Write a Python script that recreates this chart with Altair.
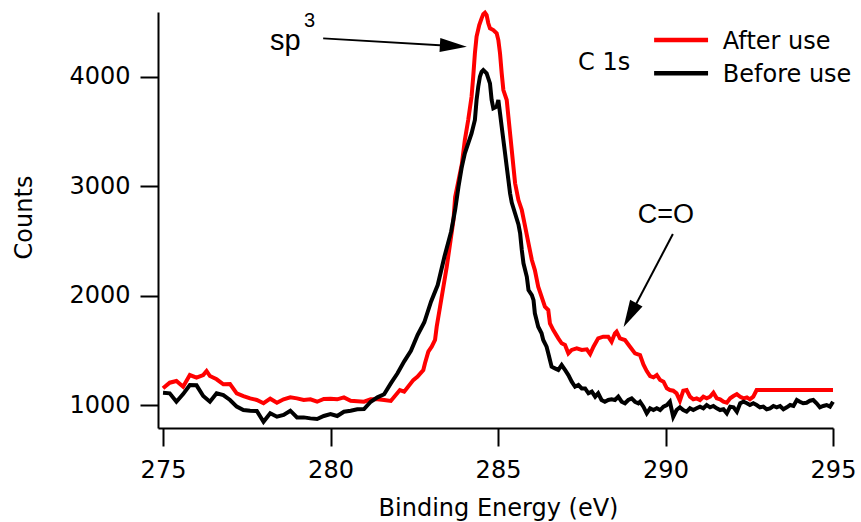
import altair as alt
import pandas as pd

# ---------------- data ----------------
after_energy = [
    275.0, 275.2, 275.4, 275.6, 275.8, 276.0, 276.2, 276.3, 276.4, 276.6, 276.8, 277.0,
    277.2, 277.4, 277.6, 277.8, 278.0, 278.2, 278.4, 278.6, 278.8, 279.0, 279.2, 279.4,
    279.6, 279.8, 280.0, 280.2, 280.4, 280.6, 280.8, 281.0, 281.2, 281.4, 281.6, 281.8,
    282.07, 282.2, 282.47, 282.6, 282.77, 282.82, 282.92, 283.02, 283.12, 283.17, 283.27,
    283.37, 283.47, 283.57, 283.67, 283.72, 283.82, 283.92, 284.01, 284.11, 284.21, 284.26,
    284.31, 284.36, 284.44, 284.51, 284.56, 284.61, 284.66, 284.71, 284.76, 284.86, 284.96,
    285.01, 285.06, 285.11, 285.16, 285.26, 285.31, 285.36, 285.41, 285.46, 285.51, 285.61,
    285.71, 285.81, 285.91, 286.01, 286.10, 286.20, 286.30, 286.40, 286.50, 286.55, 286.65,
    286.80, 286.90, 287.00, 287.10, 287.20, 287.35, 287.50, 287.65, 287.75, 287.85, 287.99,
    288.14, 288.29, 288.39, 288.49, 288.54, 288.64, 288.79, 288.94, 289.09, 289.24, 289.34,
    289.44, 289.54, 289.64, 289.74, 289.84, 289.94, 290.04, 290.13, 290.23, 290.33, 290.43,
    290.53, 290.63, 290.73, 290.83, 290.93, 291.03, 291.13, 291.23, 291.33, 291.43, 291.53,
    291.63, 291.73, 291.83, 291.93, 292.03, 292.13, 292.23, 292.33, 292.43, 292.52, 292.62,
    292.72, 295.0,
]
after_counts = [
    1153, 1204, 1219, 1167, 1274, 1250, 1274, 1311, 1265, 1235, 1189, 1192,
    1107, 1082, 1061, 1046, 1016, 1058, 1021, 1052, 1070, 1061, 1046, 1052,
    1030, 1055, 1058, 1052, 1070, 1039, 1034, 1030, 1052, 1052, 1046, 1037,
    1137, 1122, 1228, 1259, 1320, 1381, 1487, 1533, 1594, 1716, 1898,
    2081, 2264, 2477, 2690, 2900, 3050, 3200, 3421, 3604, 3817, 4000,
    4213, 4366, 4472, 4533, 4572, 4585, 4563, 4488, 4442, 4426, 4396,
    4335, 4213, 4031, 3878, 3787, 3634, 3482, 3330, 3177, 3026, 2873,
    2782, 2629, 2477, 2325, 2233, 2081, 1990, 1898, 1868, 1746, 1685,
    1609, 1564, 1548, 1472, 1503, 1518, 1503, 1509, 1466, 1533, 1609,
    1624, 1624, 1578, 1655, 1670, 1609, 1594, 1533, 1472, 1457, 1370,
    1310, 1265, 1253, 1274, 1228, 1213, 1152, 1137, 1131, 1107, 1039,
    1131, 1137, 1076, 1052, 1061, 1046, 1076, 1061, 1076, 1113, 1061,
    1052, 1030, 1021, 1061, 1082, 1100, 1076, 1061, 1070, 1052, 1076,
    1137, 1137,
]

before_energy = [
    275.0, 275.2, 275.4, 275.6, 275.8, 276.0, 276.2, 276.4, 276.6, 276.8, 277.0, 277.2,
    277.4, 277.6, 277.8, 278.0, 278.2, 278.4, 278.6, 278.8, 279.0, 279.2, 279.4, 279.6,
    279.8, 280.0, 280.2, 280.4, 280.6, 280.8, 281.0, 281.2, 281.4, 281.6, 281.8, 282.0,
    282.2, 282.4, 282.6, 282.8, 283.0, 283.2, 283.4, 283.6, 283.72, 283.82, 283.92, 284.01,
    284.11, 284.21, 284.31, 284.36, 284.41, 284.46, 284.51, 284.56, 284.66, 284.76, 284.81,
    284.86, 284.96, 285.01, 285.06, 285.11, 285.16, 285.21, 285.26, 285.31, 285.36, 285.41,
    285.51, 285.61, 285.66, 285.71, 285.76, 285.86, 285.91, 286.01, 286.06, 286.10, 286.15,
    286.20, 286.30, 286.35, 286.45, 286.50, 286.55, 286.60, 286.70, 286.80, 286.90, 287.00,
    287.10, 287.20, 287.30, 287.40, 287.50, 287.60, 287.70, 287.80, 287.90, 287.99, 288.09,
    288.19, 288.29, 288.39, 288.49, 288.59, 288.69, 288.79, 288.89, 288.99, 289.09, 289.19,
    289.24, 289.34, 289.44, 289.54, 289.64, 289.74, 289.84, 289.94, 290.04, 290.13, 290.23,
    290.33, 290.43, 290.53, 290.63, 290.73, 290.83, 290.93, 291.03, 291.13, 291.23, 291.33,
    291.43, 291.53, 291.63, 291.73, 291.83, 291.93, 292.03, 292.13, 292.23, 292.33, 292.43,
    292.52, 292.62, 292.72, 292.82, 292.92, 293.02, 293.12, 293.22, 293.32, 293.42, 293.52,
    293.62, 293.72, 293.82, 293.92, 294.01, 294.11, 294.21, 294.31, 294.41, 294.51, 294.61,
    294.71, 294.81, 294.91, 295.0,
]
before_counts = [
    1112, 1107, 1030, 1100, 1183, 1180, 1082, 1030, 1107, 1091, 1046, 985,
    954, 948, 945, 847, 924, 893, 909, 948, 887, 887, 878, 872,
    900, 918, 900, 939, 948, 961, 963, 1030, 1070, 1098, 1198, 1290,
    1399, 1496, 1640, 1756, 1944, 2096, 2355, 2584, 2782, 2995, 3177, 3300,
    3391, 3482, 3604, 3787, 3908, 4000, 4045, 4061, 4030, 3939, 3787,
    3711, 3726, 3787, 3665, 3543, 3421, 3300, 3177, 3056, 2934, 2850,
    2750, 2650, 2569, 2416, 2295, 2172, 2051, 2005, 1959, 1838, 1777,
    1715, 1655, 1594, 1533, 1472, 1411, 1350, 1335, 1320, 1365, 1320,
    1274, 1213, 1167, 1183, 1152, 1152, 1107, 1122, 1076, 1107, 1046,
    1030, 1046, 1052, 1046, 1076, 1030, 1016, 1046, 1061, 1030, 1016,
    1030, 985, 924, 970, 954, 970, 954, 985, 1000, 1030, 893,
    954, 979, 954, 939, 970, 954, 970, 985, 970, 1000, 979,
    991, 970, 954, 961, 924, 985, 979, 939, 1016, 1030, 1016,
    1000, 1016, 1000, 979, 985, 961, 970, 991, 979, 991, 961,
    979, 1000, 991, 1046, 1030, 1016, 1021, 1039, 1046, 1016, 979,
    991, 1000, 985, 1030,
]

series_names = ["After use", "Before use"]
series_colors = ["#ff0000", "#000000"]

x_ticks = [275, 280, 285, 290, 295]
y_ticks = [1000, 2000, 3000, 4000]
x_domain = [274.85, 295.0]
y_domain = [790, 4591]

# legend (drawn by hand, in data units)
legend_line_x = [289.66, 291.27]
legend_line_y = [4335, 4031]
legend_text_x = 291.71
legend_text_y = [4253, 3951]

# annotations (data units)
ann_text = ["sp", "3", "C 1s", "C=O"]
ann_x = [278.19, 279.21, 287.39, 290.01]
ann_y = [4244, 4454, 4060, 2663]
ann_size = [29, 20, 24, 27]
ann_font = ["Liberation Sans", "Liberation Sans", "DejaVu Sans", "Liberation Sans"]
ann_align = ["left", "left", "left", "center"]

arrow_x = [279.78, 290.22]
arrow_y = [4350, 2562]
arrow_x2 = [283.77, 288.90]
arrow_y2 = [4279, 1793]
head_x = [284.07, 288.75]
head_y = [4274, 1713]
head_angle = [3.35, 118.0]

FONT = "DejaVu Sans"

# ---------------- frames ----------------
df_after = pd.DataFrame({"energy": after_energy, "counts": after_counts, "series": series_names[0]})
df_before = pd.DataFrame({"energy": before_energy, "counts": before_counts, "series": series_names[1]})

color_scale = alt.Scale(domain=series_names, range=series_colors)

x_enc = alt.X(
    "energy:Q",
    scale=alt.Scale(domain=x_domain, nice=False, zero=False),
    axis=alt.Axis(
        values=x_ticks, format="d", grid=False, tickSize=18, tickWidth=2, tickColor="black",
        domainColor="black", domainWidth=2, labelFont=FONT, labelFontSize=24, labelColor="black",
        labelPadding=12, labelFlush=False, labelOverlap=False,
        title="Binding Energy (eV)", titleFont=FONT, titleFontSize=24, titleFontWeight="normal",
        titleColor="black", titleX=340, titleY=87, titleAlign="center", titleBaseline="alphabetic",
    ),
)
y_enc = alt.Y(
    "counts:Q",
    scale=alt.Scale(domain=y_domain, nice=False, zero=False),
    axis=alt.Axis(
        values=y_ticks, format="d", grid=False, tickSize=18, tickWidth=2, tickColor="black",
        domainColor="black", domainWidth=2, labelFont=FONT, labelFontSize=24, labelColor="black",
        labelPadding=10, labelFlush=False, labelOverlap=False,
        title="Counts", titleFont=FONT, titleFontSize=24, titleFontWeight="normal",
        titleColor="black", titleX=-127, titleY=205, titleAlign="center", titleBaseline="alphabetic",
        titleAngle=270,
    ),
)

line_after = alt.Chart(df_after).mark_line(strokeWidth=4).encode(
    x=x_enc, y=y_enc, order="energy:Q",
    color=alt.Color("series:N", scale=color_scale, legend=None),
)
line_before = alt.Chart(df_before).mark_line(strokeWidth=4).encode(
    x="energy:Q", y="counts:Q", order="energy:Q",
    color=alt.Color("series:N", scale=color_scale, legend=None),
)

# legend
leg_df = pd.DataFrame({
    "series": series_names,
    "x1": [legend_line_x[0]] * 2,
    "x2": [legend_line_x[1]] * 2,
    "yl": legend_line_y,
    "tx": [legend_text_x] * 2,
    "ty": legend_text_y,
})
leg_lines = alt.Chart(leg_df).mark_rule(strokeWidth=4.5).encode(
    x="x1:Q", x2="x2:Q", y="yl:Q",
    color=alt.Color("series:N", scale=color_scale, legend=None),
)
leg_text = alt.Chart(leg_df).mark_text(
    align="left", baseline="alphabetic", font=FONT, fontSize=24, color="black"
).encode(x="tx:Q", y="ty:Q", text="series:N")

# annotation texts
ann_layers = []
for t, xv, yv, s, f, a in zip(ann_text, ann_x, ann_y, ann_size, ann_font, ann_align):
    d = pd.DataFrame({"x": [xv], "y": [yv], "t": [t]})
    ann_layers.append(
        alt.Chart(d).mark_text(align=a, baseline="alphabetic", font=f, fontSize=s, color="black")
        .encode(x="x:Q", y="y:Q", text="t:N")
    )

# arrows
arr_df = pd.DataFrame({"x": arrow_x, "y": arrow_y, "x2": arrow_x2, "y2": arrow_y2})
arrow_lines = alt.Chart(arr_df).mark_rule(strokeWidth=2, color="black").encode(
    x="x:Q", y="y:Q", x2="x2:Q", y2="y2:Q"
)
head_path = "M0,0 L-2,-0.52 L-2,0.52 Z"
head_layers = []
for hx, hy, ang in zip(head_x, head_y, head_angle):
    d = pd.DataFrame({"x": [hx], "y": [hy]})
    head_layers.append(
        alt.Chart(d).mark_point(shape=head_path, filled=True, size=729, color="black",
                                opacity=1, angle=ang, strokeWidth=0)
        .encode(x="x:Q", y="y:Q")
    )

chart = alt.layer(
    line_after, line_before, leg_lines, leg_text, arrow_lines, *head_layers, *ann_layers
).properties(
    width=675, height=416,
    autosize=alt.AutoSizeParams(type="none"),
    padding={"left": 158, "top": 12, "right": 28, "bottom": 94},
    background="white",
).configure_view(stroke=None)

chart.save("out.html", embed_options={"renderer": "svg", "actions": False})
